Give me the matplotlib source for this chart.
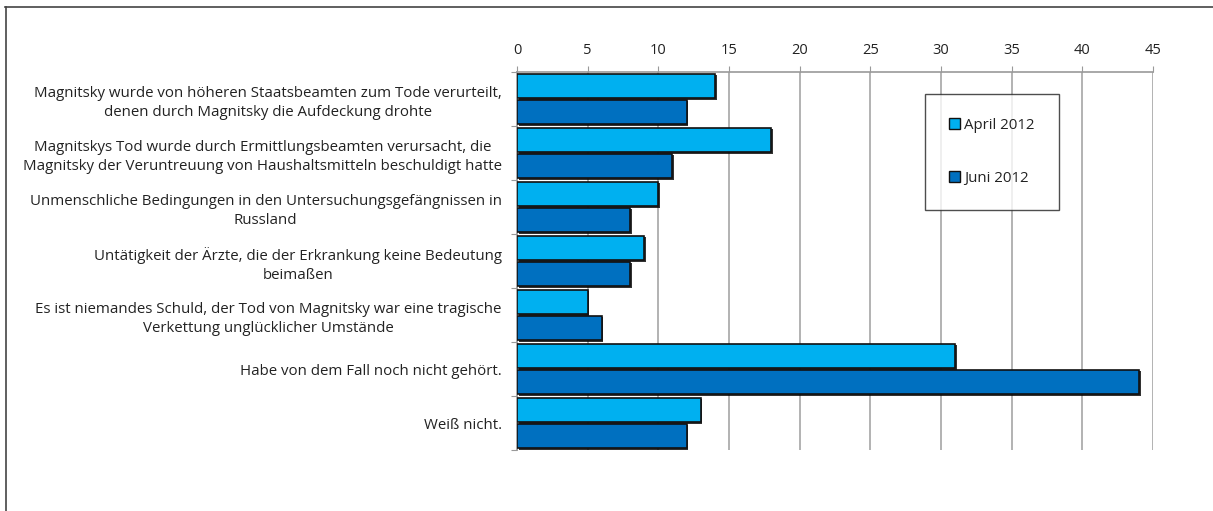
import matplotlib
matplotlib.use("Agg")
from matplotlib import pyplot as plt
from matplotlib import patheffects
import numpy as np

plt.rcParams['font.family'] = ['Open Sans', 'DejaVu Sans']

categories = [
    "Magnitsky wurde von höheren Staatsbeamten zum Tode verurteilt,\ndenen durch Magnitsky die Aufdeckung drohte",
    "Magnitskys Tod wurde durch Ermittlungsbeamten verursacht, die\nMagnitsky der Veruntreuung von Haushaltsmitteln beschuldigt hatte",
    "Unmenschliche Bedingungen in den Untersuchungsgefängnissen in\nRussland",
    "Untätigkeit der Ärzte, die der Erkrankung keine Bedeutung\nbeimaßen",
    "Es ist niemandes Schuld, der Tod von Magnitsky war eine tragische\nVerkettung unglücklicher Umstände",
    "Habe von dem Fall noch nicht gehört.",
    "Weiß nicht.",
]
april_2012 = [14, 18, 10, 9, 5, 31, 13]
juni_2012 = [12, 11, 8, 8, 6, 44, 12]
x_ticks = [0, 5, 10, 15, 20, 25, 30, 35, 40, 45]

W, H = 1213, 511
fig = plt.figure(figsize=(W / 100, H / 100), dpi=100)
ax = fig.add_axes([517 / W, 1 - 450 / H, (1153 - 517) / W, (450 - 72) / H])

y = np.arange(len(categories))
h = 0.46
shadow = [patheffects.SimplePatchShadow(offset=(1.2, -1.2), shadow_rgbFace='black', alpha=0.8),
          patheffects.Normal()]
b1 = ax.barh(y - h / 2 - 0.01, april_2012, height=h, color='#00B0F0',
             edgecolor='#111111', linewidth=1.2, label='April 2012', zorder=3)
b2 = ax.barh(y + h / 2 + 0.01, juni_2012, height=h, color='#0070C0',
             edgecolor='#111111', linewidth=1.2, label='Juni 2012', zorder=3)
for p in list(b1) + list(b2):
    p.set_path_effects(shadow)

ax.set_ylim(len(categories) - 0.5, -0.5)
ax.set_xlim(0, 45)
ax.xaxis.tick_top()
ax.set_xticks(x_ticks)
ax.tick_params(axis='x', length=4, color='#999999', labelsize=10.5, pad=6,
               labelcolor='#222222')
ax.set_yticks(np.arange(len(categories) + 1) - 0.5, minor=False)
ax.set_yticklabels([])
ax.tick_params(axis='y', length=4, color='#999999')
ax.set_yticks(y, minor=True)
ax.set_yticklabels(categories, minor=True, multialignment='center',
                   fontsize=10.8, color='#222222', linespacing=1.35)
ax.tick_params(axis='y', which='minor', length=0, pad=11)
ax.grid(axis='x', color='#A6A6A6', linewidth=1.2, zorder=0)
for s in ['right', 'bottom']:
    ax.spines[s].set_visible(False)
ax.spines['left'].set_color('#999999')
ax.spines['top'].set_color('#999999')
ax.spines['left'].set_linewidth(1.2)
ax.spines['top'].set_linewidth(1.2)

leg = ax.legend(loc='upper left', bbox_to_anchor=((925 - 517) / 636, 1 - (94 - 72) / 378),
                frameon=True, fancybox=False, edgecolor='#222222', fontsize=10.8,
                handlelength=0.75, handleheight=0.75, handletextpad=0.25,
                labelspacing=2.5, borderpad=1.6, borderaxespad=0)
leg.get_frame().set_linewidth(1.0)
for t in leg.get_patches():
    t.set_path_effects([])
    t.set_linewidth(1.0)
for t in leg.get_texts():
    t.set_color('#222222')

# outer frame of the slide
fig.add_artist(plt.Line2D([5 / W, 1], [1 - 7 / H, 1 - 7 / H], color='#444444', lw=1.2))
fig.add_artist(plt.Line2D([6 / W, 6 / W], [0, 1 - 7 / H], color='#444444', lw=1.2))

fig.savefig('out.png', dpi=100)
